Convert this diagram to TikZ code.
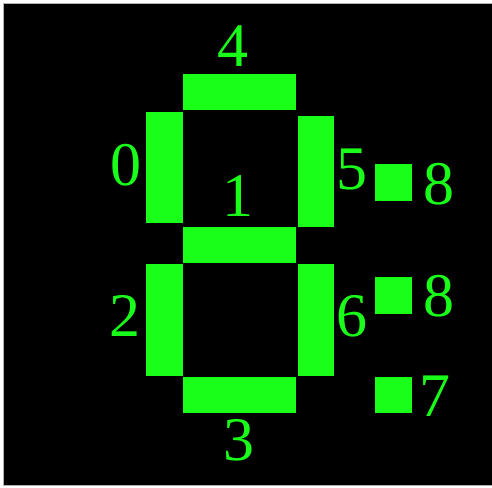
\documentclass[tikz,border=0pt]{standalone}
\usepackage{fontspec}
\setmainfont{Liberation Serif}
\definecolor{segG}{RGB}{25,255,25}
\begin{document}
\begin{tikzpicture}[x=1pt,y=-1pt,
  seg/.style={fill=segG},
  lbl/.style={text=segG,inner sep=0pt,font=\fontsize{62}{62}\selectfont}]
\useasboundingbox (0,0) rectangle (492,487);
\fill[white] (0,0) rectangle (492,487);
\fill[black] (4,4) rectangle (492,485);
\draw[gray!60,line width=0.8pt] (3.5,485.5) -- (3.5,3.5) -- (492,3.5);
\draw[gray!60,line width=0.8pt] (3.5,485.5) -- (492,485.5);
% segments
\fill[seg] (183,74) rectangle (296,110);   % 4
\fill[seg] (146,112) rectangle (183,223);  % 0
\fill[seg] (298,116) rectangle (334,227);  % 5
\fill[seg] (183,227) rectangle (296,263);  % 1
\fill[seg] (146,264) rectangle (183,376);  % 2
\fill[seg] (298,264) rectangle (334,376);  % 6
\fill[seg] (183,377) rectangle (296,413);  % 3
\fill[seg] (375,164) rectangle (412,201);  % dot
\fill[seg] (375,277) rectangle (412,314);  % dot
\fill[seg] (375,377) rectangle (412,413);  % dot
% labels
\node[lbl] (l4) at (233,46.5) {4};
\node[lbl] (l0) at (125.5,165.5) {0};
\node[lbl] (l1) at (238,196) {1};
\node[lbl] (l2) at (124.5,316) {2};
\node[lbl] (l3) at (239,440.5) {3};
\node[lbl] (l5) at (351.5,170) {5};
\node[lbl] (l6) at (351.5,316.5) {6};
\node[lbl] (l8a) at (439,184) {8};
\node[lbl] (l8b) at (439,296.5) {8};
\node[lbl] (l7) at (435,396) {7};
\end{tikzpicture}
\end{document}
